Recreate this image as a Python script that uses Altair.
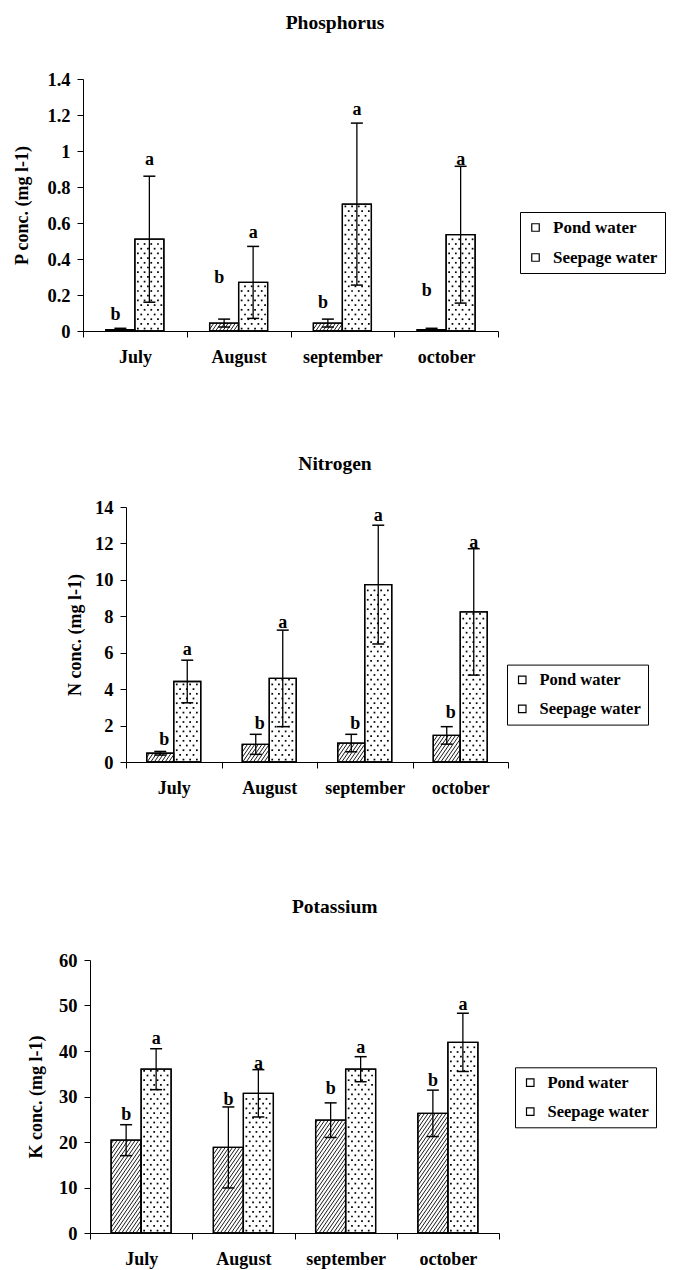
import json
import altair as alt
import pandas as pd

FONT = "Liberation Serif"

MONTHS = ["July", "August", "september", "october"]
SERIES = ["Pond water", "Seepage water"]
LETTERS = ["b", "a"]

# Phosphorus
P_TICKS = [0, 0.2, 0.4, 0.6, 0.8, 1.0, 1.2, 1.4]
P_POND = [0.008, 0.044, 0.044, 0.008]
P_POND_ERR = [0.007, 0.022, 0.022, 0.007]
P_SEEP = [0.51, 0.27, 0.705, 0.535]
P_SEEP_ERR = [0.35, 0.20, 0.45, 0.38]
P_POND_LAB = [0.089, 0.293, 0.156, 0.222]
P_SEEP_LAB = [0.948, 0.547, 1.23, 0.952]

# Nitrogen
N_TICKS = [0, 2, 4, 6, 8, 10, 12, 14]
N_POND = [0.48, 0.97, 1.04, 1.46]
N_POND_ERR = [0.10, 0.55, 0.48, 0.48]
N_SEEP = [4.42, 4.59, 9.74, 8.24]
N_SEEP_ERR = [1.17, 2.65, 3.26, 3.47]
N_POND_LAB = [1.2, 2.07, 2.07, 2.69]
N_SEEP_LAB = [6.16, 7.62, 13.5, 12.04]

# Potassium
K_TICKS = [0, 10, 20, 30, 40, 50, 60]
K_POND = [20.4, 18.8, 24.8, 26.3]
K_POND_ERR = [3.4, 8.9, 3.8, 5.1]
K_SEEP = [36.0, 30.7, 36.0, 41.9]
K_SEEP_ERR = [4.5, 5.2, 2.75, 6.4]
K_POND_LAB = [25.9, 29.3, 31.6, 33.3]
K_SEEP_LAB = [42.7, 37.2, 40.6, 50.2]


def panel(name, ytitle, ticks, pond, pond_err, seep, seep_err, pond_lab, seep_lab, st):
    W, H, s = st["w"], st["h"], st["shift"]
    n = len(MONTHS)
    ymax = ticks[-1]
    pxu = (W - s) / n
    pyu = H / ymax
    bpx = st["bar"]
    bw = bpx / pxu
    cap = 6 / pxu

    rows, dots, hatch = [], [], []
    groups = [(pond, pond_err, pond_lab), (seep, seep_err, seep_lab)]
    for i, m in enumerate(MONTHS):
        c = i + 0.5
        for j, (vals, errs, labs) in enumerate(groups):
            x0 = c - bw if j == 0 else c
            x1 = x0 + bw
            xc = x0 + bw / 2
            v, e = vals[i], errs[i]
            dx = st["bdx"] if j == 0 else 0
            rows.append(dict(month=m, series=SERIES[j], x0=x0, x1=x1, xc=xc,
                             ca=xc - cap, cb=xc + cap, v=v, lo=max(v - e, 0),
                             hi=v + e, lab=LETTERS[j], laby=labs[i],
                             labx=xc + dx / pxu))
            hpx = v * pyu
            if j == 1:
                # dotted texture
                k = 0
                while 2.4 + k * 4.7 < hpx - 1.2:
                    yp = 2.4 + k * 4.7
                    xp = 3.0 + (k % 2) * 3.35
                    while xp < bpx - 1.5:
                        dots.append(dict(x=x0 + xp / pxu, y=yp / pyu))
                        xp += 6.7
                    k += 1
            elif hpx > 2.5:
                # diagonal hatch texture
                sl, sp = 1.45, 3.6
                cc = bpx - sp * 0.4
                while cc > -hpx / sl:
                    xa = max(0.0, cc)
                    xb = min(bpx, cc + hpx / sl)
                    if xb - xa > 0.3:
                        hatch.append(dict(xa=x0 + xa / pxu, xb=x0 + xb / pxu,
                                          ya=sl * (xa - cc) / pyu,
                                          yb=sl * (xb - cc) / pyu))
                    cc -= sp

    df = pd.DataFrame(rows)
    ddf = pd.DataFrame(dots)
    hdf = pd.DataFrame(hatch)

    vals_x = [k / 2 for k in range(2 * n + 1)]
    xaxis = alt.Axis(
        values=vals_x, title=None, grid=False,
        labelExpr="datum.value % 1 == 0.5 ? " + json.dumps(MONTHS) + "[floor(datum.value)] : ''",
        tickOpacity={"condition": {"test": "datum.value % 1 == 0.5", "value": 0}, "value": 1},
        labelFlush=False, labelOverlap=False, labelBound=False,
        domainColor="black", tickColor="black", tickSize=6, tickWidth=1, domainWidth=1,
        labelFont=FONT, labelFontSize=18, labelFontWeight="bold", labelColor="black",
        labelPadding=11,
    )
    yaxis = alt.Axis(
        values=ticks, format="~r", title=ytitle, grid=False,
        titleX=st["ytx"], titleY=H / 2, titleAngle=270, titleAlign="center",
        titleBaseline="middle", titleFont=FONT, titleFontSize=18,
        titleFontWeight="bold", titleColor="black",
        offset=-s, domainColor="black", tickColor="black", tickSize=6,
        tickWidth=1, domainWidth=1,
        labelFont=FONT, labelFontSize=18.5, labelFontWeight="bold",
        labelColor="black", labelPadding=7,
    )
    xs = alt.Scale(domain=[0, n], range=[s, W], nice=False, zero=False)
    ys = alt.Scale(domain=[0, ymax], nice=False, zero=True)

    def X(f):
        return alt.X(f, type="quantitative", scale=xs, axis=xaxis)

    def Y(f):
        return alt.Y(f, type="quantitative", scale=ys, axis=yaxis)

    base = alt.Chart(df)
    bars = base.mark_bar(stroke="black", strokeWidth=1.3).encode(
        x=X("x0"), x2="x1", y=Y("v"), y2=alt.datum(0),
        fill=alt.Fill("series:N", scale=alt.Scale(domain=SERIES, range=["white", "white"]),
                      legend=alt.Legend(
                          orient="none", legendX=st["lx"], legendY=st["ly"], title=None,
                          strokeColor="black", fillColor="white", padding=7,
                          symbolType="square", symbolSize=56, symbolStrokeColor="black",
                          symbolStrokeWidth=1.2, labelOffset=9, rowPadding=st["rp"],
                          labelFont=FONT, labelFontSize=st["lfs"], labelFontWeight="bold",
                          labelColor="black")),
    )
    dl = alt.Chart(ddf).mark_square(size=3, color="black", opacity=1).encode(
        x=X("x"), y=Y("y"))
    hl = alt.Chart(hdf).mark_rule(color="black", strokeWidth=0.9).encode(
        x=X("xa"), x2="xb", y=Y("ya"), y2="yb")
    outline = base.mark_bar(fillOpacity=0, stroke="black", strokeWidth=1.3).encode(
        x=X("x0"), x2="x1", y=Y("v"), y2=alt.datum(0))
    err = base.mark_rule(color="black", strokeWidth=1.3).encode(
        x=X("xc"), y=Y("lo"), y2="hi")
    cap_hi = base.mark_rule(color="black", strokeWidth=1.5).encode(
        x=X("ca"), x2="cb", y=Y("hi"))
    cap_lo = base.mark_rule(color="black", strokeWidth=1.5).encode(
        x=X("ca"), x2="cb", y=Y("lo"))
    txt = base.mark_text(font=FONT, fontSize=18, fontWeight="bold", color="black",
                         baseline="middle", align="center").encode(
        x=X("labx"), y=Y("laby"), text="lab:N")
    ttl = alt.Chart(pd.DataFrame({"t": [name]})).mark_text(
        font=FONT, fontSize=19.5, fontWeight="bold", color="black",
        baseline="middle", align="center").encode(
        x=alt.value(W / 2 + st["tdx"]), y=alt.value(st["ty"]), text="t:N")

    layers = [bars, dl, hl, outline, err, cap_hi, cap_lo, txt, ttl]
    if st.get("pad_bottom"):
        layers.append(base.mark_rule(color="white", strokeWidth=1).encode(
            x=alt.value(0), x2=alt.value(2), y=alt.value(H + st["pad_bottom"])))
    return alt.layer(*layers).properties(
        width=W, height=H,
        view=alt.ViewBackground(strokeWidth=0, strokeOpacity=0),
    )


p = panel("Phosphorus", "P conc. (mg l-1)", P_TICKS, P_POND, P_POND_ERR, P_SEEP,
          P_SEEP_ERR, P_POND_LAB, P_SEEP_LAB,
          dict(w=415, h=252, shift=0, bar=29, ytx=-61, lx=437, ly=133, lfs=17, rp=12,
               tdx=44.5, ty=-56, bdx=-5))
nn = panel("Nitrogen", "N conc. (mg l-1)", N_TICKS, N_POND, N_POND_ERR, N_SEEP,
           N_SEEP_ERR, N_POND_LAB, N_SEEP_LAB,
           dict(w=425, h=255, shift=43, bar=27, ytx=-50.5, lx=424, ly=157.6, lfs=16.5,
                rp=12, tdx=39.5, ty=-42.7, bdx=4, pad_bottom=46))
k = panel("Potassium", "K conc. (mg l-1)", K_TICKS, K_POND, K_POND_ERR, K_SEEP,
          K_SEEP_ERR, K_POND_LAB, K_SEEP_LAB,
          dict(w=416, h=273, shift=7, bar=30, ytx=-53.3, lx=432, ly=107.3, lfs=16.5,
               rp=12, tdx=43.7, ty=-53, bdx=0))

chart = alt.vconcat(p, nn, k, spacing=88).resolve_scale(fill="independent").properties(
    padding={"left": 5, "top": 5, "right": 0, "bottom": 5}, background="white"
).configure(font=FONT).configure_view(strokeWidth=0, stroke="transparent")

chart.save("out.html", embed_options={"renderer": "svg", "actions": False})
